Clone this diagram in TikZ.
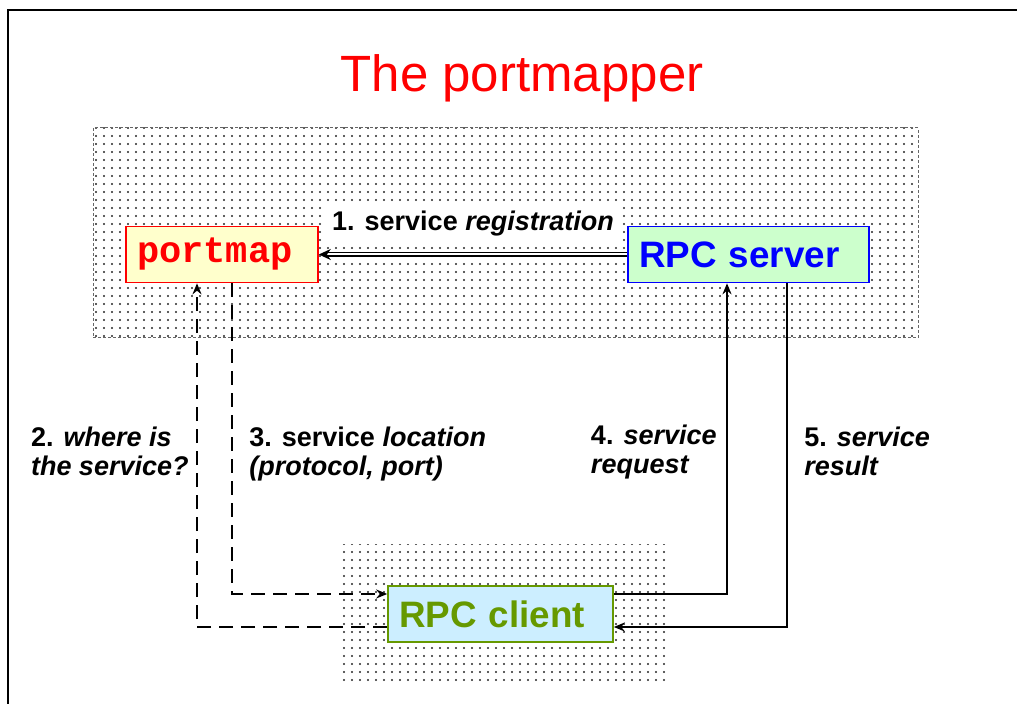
\documentclass[tikz,border=0pt]{standalone}
\usepackage{fontspec}
\setmainfont{Liberation Sans}
\newfontfamily\codefont{Liberation Mono}
\usetikzlibrary{positioning,arrows.meta,patterns}
\definecolor{pmfill}{HTML}{FFFFCC}
\definecolor{srvfill}{HTML}{CCFFCC}
\definecolor{clifill}{HTML}{CCEEFF}
\definecolor{cligreen}{HTML}{669900}
\pgfdeclarepatternformonly{sparse dots}{\pgfqpoint{-1pt}{-1pt}}{\pgfqpoint{1pt}{1pt}}{\pgfqpoint{4pt}{4pt}}{%
	\pgfpathcircle{\pgfpointorigin}{0.6pt}\pgfusepath{fill}}
\tikzset{
	dotted area/.style={pattern=sparse dots, pattern color=black!85},
	box/.style={draw, line width=0.8pt, inner xsep=5.5pt, minimum height=28pt, align=left,
		font=\bfseries\fontsize{18.4}{20}\selectfont},
	msg/.style={font=\bfseries\fontsize{13.5}{14.5}\selectfont, align=left, inner sep=3pt},
	call/.style={line width=1.4pt, -{Stealth[length=5.5pt,width=4.5pt]}},
	ask/.style={call, dash pattern=on 7pt off 4pt},
}
\begin{document}
\begin{tikzpicture}[x=0.5pt, y=-0.5pt, node distance=263.25pt]
	\useasboundingbox (0,0) rectangle (1017,704);
	\draw[line width=1pt] (8,710) -- (8,10) -- (1025,10);
	\node (title) [anchor=base, text=red, font=\fontsize{25.5}{28}\selectfont] at (522,92) {The portmapper};
	\path[dotted area, draw=black!60, dash pattern=on 1.5pt off 1pt, line width=0.5pt] (93,128) rectangle (918,338);
	\path[dotted area] (340,545) rectangle (665,682);
	\node (portmap) [box, draw=red, fill=pmfill, text=red, text width=85pt,
		font=\codefont\bfseries\fontsize{18.5}{20}\selectfont] at (222,254.5) {portmap};
	\node (server) [box, right of=portmap, draw=blue, fill=srvfill, text=blue, text width=109.5pt] {RPC server};
	\node (client) [box, draw=cligreen, fill=clifill, text=cligreen, text width=101.5pt] at (500.5,614) {RPC client};
	\draw[call, line width=0.8pt, double, double distance=1pt, -{Stealth[length=6pt,width=5.5pt]}]
		(server) -- node [msg, above=6pt, fill=white] {1. service \textit{registration}} (portmap);
	\draw[ask] ([yshift=-6.5pt]client.west) -| node [msg, pos=0.755, left=0.5pt]
		{2. \textit{where is}\\\textit{the service?}} ([xshift=-12.5pt]portmap.south);
	\draw[ask] ([xshift=5pt]portmap.south) |- node [msg, pos=0.275, right=5pt]
		{3. service \textit{location}\\\textit{(protocol, port)}} ([yshift=10pt]client.west);
	\draw[call] ([yshift=10pt]client.east) -| node [msg, pos=0.728, left=1.5pt]
		{4. \textit{service}\\\textit{request}} ([xshift=-10.75pt]server.south);
	\draw[call] ([xshift=19.25pt]server.south) |- node [msg, pos=0.245, right=5pt]
		{5. \textit{service}\\\textit{result}} ([yshift=-6.5pt]client.east);
\end{tikzpicture}
\end{document}
